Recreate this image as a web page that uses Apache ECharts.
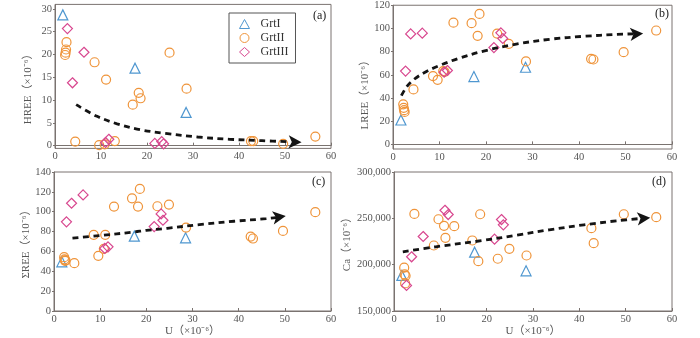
<!DOCTYPE html>
<html>
<head>
<meta charset="utf-8">
<script src="https://cdn.jsdelivr.net/npm/echarts@6/dist/echarts.min.js"></script>
<style>
  html, body { margin: 0; padding: 0; background: #fff; }
  #chart { width: 700px; height: 338px; }
</style>
</head>
<body>
<div id="chart"></div>
<script>
// U (x10^-6) of each garnet sample, per group
const uGrt1 = [1.7, 17.4, 28.5];
const uGrt2 = [2.2, 2.3, 2.4, 2.5, 4.4, 8.6, 9.6, 10.8, 11.1, 13.0, 16.9, 18.2, 18.6, 22.4, 24.9, 28.6, 42.6, 43.1, 49.6, 56.6];
const uGrt3 = [2.7, 3.8, 6.3, 11.0, 11.7, 21.7, 23.2, 23.6];

// (a) HREE
const hreeGrt1 = [28.7, 17.0, 7.3];
const hreeGrt2 = [19.9, 20.4, 21.1, 22.7, 0.9, 18.3, 0.1, 0.3, 14.5, 1.0, 9.0, 11.6, 10.4, null, 20.4, 12.5, 1.0, 1.0, 0.4, 2.0];
const hreeGrt3 = [25.7, 13.8, 20.5, 0.7, 1.4, 0.5, 0.9, 0.4];

// (b) LREE
const lreeGrt1 = [21, 58.5, 66.5];
const lreeGrt2 = [34.5, 31.5, 29.5, 28, 47.4, 58.9, 55.7, 63.2, 62.5, 105, 104.5, 93.6, 112.5, 95.6, 86.7, 71.5, 73.8, 73.2, 79.5, 98.2];
const lreeGrt3 = [63.2, 95.3, 95.9, 62.3, 63.7, 83.5, 96.2, 91.3];

// (c) total REE
const sreeGrt1 = [49.5, 75.4, 73.7];
const sreeGrt2 = [54.2, 52, 50.5, 51, 48.2, 76.7, 55.6, 62.6, 76.7, 105.2, 113.5, 105.2, 123, 105.5, 107.2, 84, 75, 73, 80.7, 99.5];
const sreeGrt3 = [89.8, 108.5, 116.9, 63, 64.6, 85, 97.8, 91.4];

// (d) Ca
const caGrt1 = [188400, 213500, 193400];
const caGrt2 = [196700, 189500, 179800, 188000, 254800, 220700, 249000, 241900, 229000, 241500, 226100, 203800, 254400, 206400, 217100, 209900, 239400, 223200, 254400, 251200];
const caGrt3 = [177600, 208500, 230400, 258700, 254100, 227500, 248700, 243000];

// hand drawn trend arrows (line points, then arrow head position)
const trendA = [[4.6, 9.0], [9, 6.5], [13.5, 4.8], [18.5, 3.5], [24, 2.7], [31, 1.9], [38, 1.4], [45, 1.1], [51, 0.85]];
const trendB = [[1.8, 42], [3, 50], [4.5, 56], [7, 62.5], [10, 68], [14, 74], [19.5, 80.5], [26.5, 86.5], [34, 90.8], [41, 93.2], [48, 94.8], [52, 95.4]];
const trendC = [[4, 73.3], [10, 76], [17.2, 79.5], [20, 81.2], [24.5, 83.3], [31.5, 87], [39, 90.4], [46, 93], [48.5, 94.5]];
const trendD = [[1.9, 213900], [9, 219300], [19, 226000], [26.5, 231800], [33.5, 237600], [41, 243000], [48, 247300], [53.5, 250000]];
const arrowHeads = [[53.6, 0.75], [53.8, 95.6], [50.2, 95.7], [55.3, 250700]];

const hreeTicks = [0, 5, 10, 15, 20, 25, 30];
const lreeTicks = [0, 20, 40, 60, 80, 100, 120];

const FONT = "'Liberation Serif', 'Noto Sans CJK SC', serif";
const AXIS_COLOR = '#7a7370';
const LABEL_COLOR = '#555';

const groups = [
  { name: 'GrtI', u: uGrt1, symbol: 'triangle', size: 10, color: '#4f97d0' },
  { name: 'GrtII', u: uGrt2, symbol: 'circle', size: 9, color: '#ef943a' },
  { name: 'GrtIII', u: uGrt3, symbol: 'diamond', size: 10, color: '#d8478f' },
];

const panels = [
  { values: [hreeGrt1, hreeGrt2, hreeGrt3], trend: trendA, rot: -92 },
  { values: [lreeGrt1, lreeGrt2, lreeGrt3], trend: trendB, rot: -86 },
  { values: [sreeGrt1, sreeGrt2, sreeGrt3], trend: trendC, rot: -82 },
  { values: [caGrt1, caGrt2, caGrt3], trend: trendD, rot: -85 },
];

function pairs(xs, ys) {
  return xs.map((x, i) => (ys[i] == null ? null : [x, ys[i]])).filter(Boolean);
}

const grids = [
  { left: 55, top: 4.4, width: 276, height: 144 },
  { left: 393, top: 4, width: 279, height: 145 },
  { left: 54, top: 172, width: 277, height: 140 },
  { left: 394, top: 172, width: 278, height: 139.5 },
].map(g => Object.assign(g, { show: true, borderColor: AXIS_COLOR, borderWidth: 1 }));

const xAxes = [0, 1, 2, 3].map(i => ({
  gridIndex: i,
  type: 'value',
  min: 0,
  max: 60,
  interval: 10,
  name: i >= 2 ? 'U（×10⁻⁶）' : '',
  nameLocation: 'middle',
  nameGap: 15,
  nameTextStyle: { fontFamily: FONT, fontSize: 11, color: LABEL_COLOR },
  axisLine: { lineStyle: { color: AXIS_COLOR } },
  axisTick: { inside: true, length: 3, lineStyle: { color: AXIS_COLOR } },
  axisLabel: { color: LABEL_COLOR, fontFamily: FONT, fontSize: 10.5, margin: 3 },
  splitLine: { show: false },
}));

function yAxis(i, cfg) {
  return Object.assign({
    gridIndex: i,
    type: 'value',
    nameLocation: 'middle',
    axisLine: { show: true, lineStyle: { color: AXIS_COLOR } },
    axisTick: { show: true, length: 2, lineStyle: { color: AXIS_COLOR } },
    axisLabel: { color: LABEL_COLOR, fontFamily: FONT, fontSize: 10.5, margin: 3 },
    splitLine: { show: false },
  }, cfg);
}

const yAxes = [
  yAxis(0, {
    min: -0.6, max: 31, name: 'HREE（×10⁻⁶）', nameGap: 21,
    nameTextStyle: { fontFamily: FONT, fontSize: 11, color: LABEL_COLOR, padding: [0, 20, 0, 0] },
    axisTick: { show: true, length: 2, customValues: hreeTicks, lineStyle: { color: AXIS_COLOR } },
    axisLabel: { color: LABEL_COLOR, fontFamily: FONT, fontSize: 10.5, margin: 3, customValues: hreeTicks },
  }),
  yAxis(1, {
    min: -4, max: 120, name: 'LREE（×10⁻⁶）', nameGap: 19,
    nameTextStyle: { fontFamily: FONT, fontSize: 11, color: LABEL_COLOR, padding: [0, 30, 0, 0] },
    axisTick: { show: true, length: 2, customValues: lreeTicks, lineStyle: { color: AXIS_COLOR } },
    axisLabel: { color: LABEL_COLOR, fontFamily: FONT, fontSize: 10.5, margin: 3, customValues: lreeTicks },
  }),
  yAxis(2, {
    min: 0, max: 140, interval: 20, name: 'ΣREE（×10⁻⁶）', nameGap: 21,
    nameTextStyle: { fontFamily: FONT, fontSize: 11, color: LABEL_COLOR },
  }),
  yAxis(3, {
    min: 150000, max: 300000, interval: 50000, name: 'Ca（×10⁻⁶）', nameGap: 35,
    nameTextStyle: { fontFamily: FONT, fontSize: 11, color: LABEL_COLOR },
  }),
];

const series = [];
panels.forEach((p, i) => {
  groups.forEach((g, k) => {
    series.push({
      name: g.name,
      type: 'scatter',
      xAxisIndex: i,
      yAxisIndex: i,
      symbol: g.symbol,
      symbolSize: g.size,
      itemStyle: { color: 'rgba(255,255,255,0)', borderColor: g.color, borderWidth: 1.2, opacity: 1 },
      data: pairs(g.u, p.values[k]),
    });
  });
  series.push({
    type: 'line',
    xAxisIndex: i,
    yAxisIndex: i,
    smooth: 0.35,
    showSymbol: false,
    silent: true,
    lineStyle: { color: '#141414', width: 2.8, type: [6, 4.5] },
    data: p.trend,
  });
  series.push({
    type: 'scatter',
    xAxisIndex: i,
    yAxisIndex: i,
    symbol: 'arrow',
    symbolSize: [10, 13],
    symbolRotate: p.rot,
    silent: true,
    itemStyle: { color: '#141414', opacity: 1 },
    data: [arrowHeads[i]],
  });
});

const panelLabel = (text, left, top) => ({
  text, left, top, padding: 0,
  textStyle: { fontFamily: FONT, fontSize: 12, fontWeight: 'normal', color: '#222' },
});

const option = {
  animation: false,
  backgroundColor: '#fff',
  title: [
    panelLabel('(a)', 313, 10),
    panelLabel('(b)', 655, 8),
    panelLabel('(c)', 312, 176),
    panelLabel('(d)', 652, 176),
  ],
  legend: {
    data: ['GrtI', 'GrtII', 'GrtIII'],
    orient: 'vertical',
    left: 229,
    top: 13,
    padding: [5, 7, 5, 10],
    itemGap: 2,
    itemWidth: 10,
    itemHeight: 9,
    borderColor: '#555',
    borderWidth: 1,
    itemStyle: { borderWidth: 1 },
    textStyle: { fontFamily: FONT, fontSize: 12, color: '#333', lineHeight: 12, padding: [0, 0, 0, 6] },
  },
  grid: grids,
  xAxis: xAxes,
  yAxis: yAxes,
  series,
};

const chart = echarts.init(document.getElementById('chart'));
chart.setOption(option);
</script>
</body>
</html>
